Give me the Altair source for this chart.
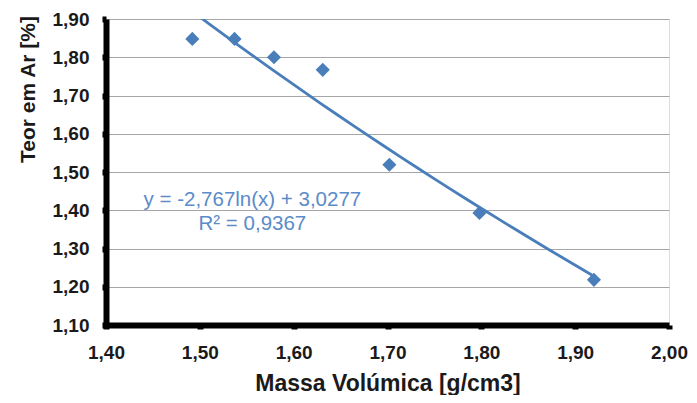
import altair as alt
import pandas as pd

massa = [1.492, 1.537, 1.579, 1.631, 1.702, 1.798, 1.920]
teor = [1.848, 1.848, 1.800, 1.767, 1.519, 1.393, 1.218]
x_ticks = [1.40, 1.50, 1.60, 1.70, 1.80, 1.90, 2.00]
y_ticks = [1.10, 1.20, 1.30, 1.40, 1.50, 1.60, 1.70, 1.80, 1.90]
eq_lines = ["y = -2,767ln(x)  + 3,0277", "R² = 0,9367"]
eq_x = [1.556, 1.556]
eq_y = [1.427, 1.365]

df = pd.DataFrame({"x": massa, "y": teor})
ann = pd.DataFrame({"x": eq_x, "y": eq_y, "t": eq_lines})

blue = "#4A7EBB"
font = "Liberation Sans"
fmt = "replace(format(datum.value, '.2f'), '.', ',')"

xs = alt.Scale(domain=[1.40, 2.00], nice=False, zero=False)
ys = alt.Scale(domain=[1.10, 1.90], nice=False, zero=False)

common = dict(labelExpr=fmt, labelOverlap=False, labelFlush=False,
              domainColor="black", domainWidth=6, tickColor="black", tickWidth=6, tickSize=4,
              labelFont=font, labelFontSize=19, labelFontWeight="bold", labelColor="#1a1a1a",
              titleFont=font, titleFontWeight="bold", titleColor="#1a1a1a")

xax = alt.Axis(values=x_ticks, title="Massa Volúmica [g/cm3]", grid=False,
               labelPadding=14, titlePadding=10, titleFontSize=23, **common)
yax = alt.Axis(values=y_ticks, title="Teor em Ar [%]", grid=True,
               gridColor="#A6A6A6", gridWidth=1, titleY=70, titleFontSize=21,
               labelPadding=13, titlePadding=14, **common)

base = alt.Chart(df)
trend = base.transform_regression("x", "y", method="log").mark_line(
    color=blue, strokeWidth=2.8, clip=True
).encode(x=alt.X("x:Q", scale=xs, axis=xax), y=alt.Y("y:Q", scale=ys, axis=yax))

pts = base.mark_point(shape="diamond", filled=True, size=200, color=blue, opacity=1).encode(
    x=alt.X("x:Q", scale=xs, axis=xax),
    y=alt.Y("y:Q", scale=ys, axis=yax),
)

txt = alt.Chart(ann).mark_text(font=font, fontSize=20.5, color="#5B8BC9", align="center").encode(
    x=alt.X("x:Q", scale=xs, axis=xax), y=alt.Y("y:Q", scale=ys, axis=yax), text="t:N"
)

chart = alt.layer(trend, pts, txt).properties(
    width=563, height=306,
    autosize="none",
    padding={"left": 98, "top": 11, "right": 20, "bottom": 70},
).configure_view(stroke=None).configure(background="white")

chart.save("out.html", embed_options={"renderer": "svg", "actions": False})
